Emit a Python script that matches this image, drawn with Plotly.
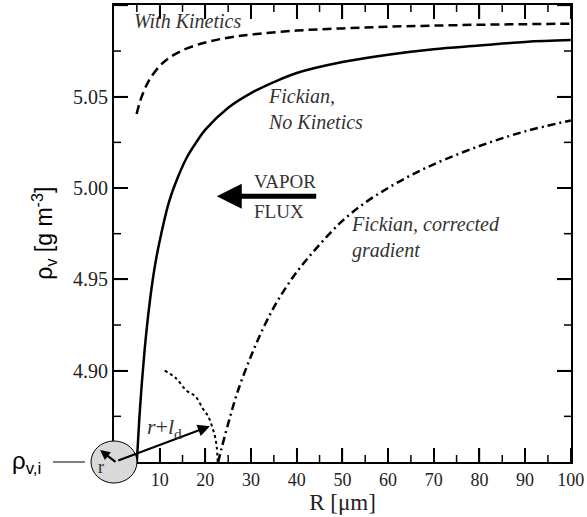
import plotly.graph_objects as go

# ---- data ----
r_nokin = [5, 5.5, 6, 7, 8, 9, 10, 12, 14, 16, 18, 20, 25, 30, 35, 40, 50, 60, 70, 80, 90, 100]
rho_nokin = [4.850, 4.872, 4.890, 4.919, 4.941, 4.958, 4.971, 4.992, 5.006, 5.017, 5.025, 5.032,
             5.044, 5.052, 5.058, 5.063, 5.069, 5.073, 5.076, 5.078, 5.080, 5.081]

r_kin = [4.95, 5.5, 6, 7, 8, 10, 12, 15, 20, 25, 30, 40, 50, 60, 70, 80, 90, 100]
rho_kin = [5.0405, 5.0457, 5.0496, 5.0557, 5.0603, 5.0668, 5.0711, 5.0754, 5.0797, 5.0823,
           5.0840, 5.0862, 5.0874, 5.0883, 5.0889, 5.0894, 5.0897, 5.0900]

r_corr = [22.8, 23.5, 25, 27, 30, 33, 36, 40, 45, 50, 55, 60, 65, 70, 80, 90, 100]
rho_corr = [4.850, 4.857, 4.871, 4.888, 4.908, 4.925, 4.939, 4.954, 4.969, 4.982, 4.992,
            5.000, 5.007, 5.013, 5.023, 5.031, 5.037]

r_arc = [11.1, 13.5, 15.9, 17.8, 19.5, 20.6, 21.4, 22.1, 22.5, 22.7]
rho_arc = [4.900, 4.896, 4.889, 4.886, 4.879, 4.875, 4.870, 4.864, 4.858, 4.850]

x_ticks = [10, 20, 30, 40, 50, 60, 70, 80, 90, 100]
x_minor = [5, 15, 25, 35, 45, 55, 65, 75, 85, 95]
y_ticks = [4.90, 4.95, 5.00, 5.05, 5.10]
y_labels = ["4.90", "4.95", "5.00", "5.05", ""]
y_minor = [4.875, 4.925, 4.975, 5.025, 5.075]

SERIF = "Liberation Serif"
SANS = "Liberation Sans"
PLOT_PX = 457.0
MAJ, MIN = 14 / PLOT_PX, 7 / PLOT_PX

fig = go.Figure()
fig.add_trace(go.Scatter(x=r_kin, y=rho_kin, mode="lines", line=dict(color="black", width=2.5, dash="9px,5px", shape="spline")))
fig.add_trace(go.Scatter(x=r_nokin, y=rho_nokin, mode="lines", line=dict(color="black", width=2.5, shape="spline")))
fig.add_trace(go.Scatter(x=r_corr, y=rho_corr, mode="lines", line=dict(color="black", width=2.5, dash="8px,4px,2px,4px", shape="spline")))
fig.add_trace(go.Scatter(x=r_arc, y=rho_arc, mode="lines", line=dict(color="black", width=2, dash="3px,3px", shape="spline")))

it = dict(family=SERIF, size=20, color="#333")
fig.add_annotation(x=0.039, y=1.0, xref="paper", yref="paper", xanchor="left", yanchor="top", yshift=-3,
                   text="<i>With Kinetics</i>", showarrow=False, font=it)
fig.add_annotation(x=33.3, y=5.0435, xref="x", yref="y", xanchor="left", yanchor="middle", align="left",
                   text="<i>Fickian,<br>No Kinetics</i>", showarrow=False, font=it)
fig.add_annotation(x=51.5, y=4.9728, xref="x", yref="y", xanchor="left", yanchor="middle", align="left",
                   text="<i>Fickian, corrected<br>gradient</i>", showarrow=False, font=it)
fig.add_annotation(x=30.3, y=5.0035, xref="x", yref="y", xanchor="left", yanchor="middle",
                   text="VAPOR", showarrow=False, font=dict(family=SERIF, size=19, color="#333"))
fig.add_annotation(x=30.3, y=4.987, xref="x", yref="y", xanchor="left", yanchor="middle",
                   text="FLUX", showarrow=False, font=dict(family=SERIF, size=19, color="#333"))
fig.add_annotation(x=22.5, y=4.9955, xref="x", yref="y", ax=44.6, ay=4.9955, axref="x", ayref="y",
                   showarrow=True, arrowhead=2, arrowsize=1.0, arrowwidth=5, arrowcolor="black", text="")
fig.add_annotation(x=21.0, y=4.8696, xref="x", yref="y", ax=0.6, ay=4.8505, axref="x", ayref="y",
                   showarrow=True, arrowhead=2, arrowsize=1.1, arrowwidth=2.2, arrowcolor="black", text="")
fig.add_annotation(x=11.0, y=4.8685, xref="x", yref="y", xanchor="center", yanchor="middle",
                   text="<i>r</i>+<i>l</i><sub>d</sub>", showarrow=False, font=dict(family=SERIF, size=22, color="#333"))
fig.add_annotation(x=-0.0306, y=0.026, xref="paper", yref="paper", ax=17, ay=13, axref="pixel", ayref="pixel",
                   showarrow=True, arrowhead=2, arrowsize=0.9, arrowwidth=2.2, arrowcolor="black", text="")
fig.add_annotation(x=-0.028, y=-0.01, xref="paper", yref="paper", xanchor="center", yanchor="middle",
                   text="r", showarrow=False, font=dict(family=SERIF, size=18, color="#333"))
fig.add_annotation(x=-0.192, y=0.0, xref="paper", yref="paper", xanchor="center", yanchor="middle",
                   text="ρ<sub>v,i</sub>", showarrow=False, font=dict(family=SANS, size=24, color="black"))
fig.add_annotation(x=-0.155, y=0.5, xref="paper", yref="paper", xanchor="center", yanchor="middle", textangle=-90,
                   text="ρ<sub>v</sub> [g m<sup>-3</sup>]", showarrow=False, font=dict(family=SANS, size=23, color="black"))

# inward minor/major ticks on all four sides, placed through the axes' scales
tick_line = dict(color="black", width=1.5)
for v, ln in [(t, MAJ) for t in x_ticks] + [(t, MIN) for t in x_minor]:
    fig.add_shape(type="line", xref="x", yref="paper", x0=v, x1=v, y0=0, y1=ln, line=tick_line, layer="above")
    fig.add_shape(type="line", xref="x", yref="paper", x0=v, x1=v, y0=1, y1=1 - ln, line=tick_line, layer="above")
for v, ln in [(t, MAJ) for t in y_ticks] + [(t, MIN) for t in y_minor]:
    fig.add_shape(type="line", xref="paper", yref="y", x0=0, x1=ln, y0=v, y1=v, line=tick_line, layer="above")
    fig.add_shape(type="line", xref="paper", yref="y", x0=1, x1=1 - ln, y0=v, y1=v, line=tick_line, layer="above")

fig.add_shape(type="circle", xref="paper", yref="paper", x0=-0.0503, x1=0.0503, y0=-0.046, y1=0.046,
              fillcolor="#d9d9d9", line=dict(color="black", width=1), layer="above")
fig.add_shape(type="line", xref="paper", yref="paper", x0=-0.1335, x1=-0.0635, y0=0, y1=0,
              line=dict(color="black", width=1))

fig.update_layout(
    width=587, height=517,
    margin=dict(l=114, r=16, t=5, b=55, autoexpand=False),
    paper_bgcolor="white", plot_bgcolor="white",
    font=dict(family=SERIF, size=19, color="#222"),
    showlegend=False,
)
fig.update_xaxes(range=[0, 100.05], tickmode="array", tickvals=x_ticks, ticks="inside", ticklen=14,
                 tickwidth=2, tickcolor="black", showline=True, linecolor="black", linewidth=2, mirror="ticks",
                 showgrid=False, zeroline=False,
                 tickfont=dict(family=SERIF, size=18, color="#222"),
                 title=dict(text="R [μm]", font=dict(family=SERIF, size=23, color="#222"), standoff=2))
fig.update_yaxes(range=[4.85, 5.1002], tickmode="array", tickvals=y_ticks, ticktext=y_labels, ticks="inside",
                 ticklen=14, tickwidth=2, tickcolor="black", showline=True, linecolor="black", linewidth=2,
                 mirror="ticks", showgrid=False, zeroline=False,
                 tickfont=dict(family=SERIF, size=20, color="#222"))

fig.write_html("out.html", config={"displayModeBar": False},
               post_script="document.body.style.margin='0';")
